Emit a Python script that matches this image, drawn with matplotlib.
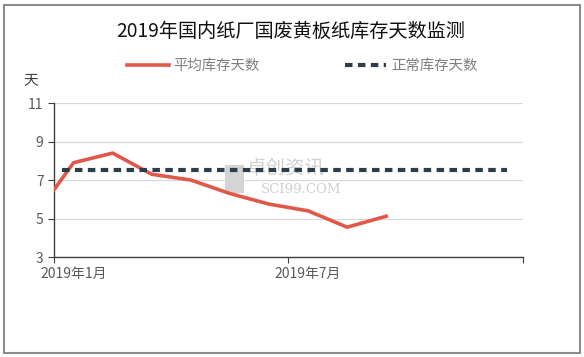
import matplotlib
matplotlib.use("Agg")
import matplotlib.pyplot as plt
from matplotlib.patches import Rectangle

plt.rcParams['font.family'] = ['Noto Sans CJK SC', 'DejaVu Sans']

# data (x in months from 2019-01)
avg_x = [0, 0.5, 1.5, 2.5, 3.5, 4.5, 5.5, 6.5, 7.5, 8.5]
avg_days = [6.5, 7.9, 8.4, 7.3, 7.0, 6.3, 5.75, 5.4, 4.55, 5.12]
normal_x = [0.2, 11.6]
normal_days = [7.5, 7.5]
xtick_pos = [0, 6, 12]
xlabel_pos = [0.5, 6.5]
xtick_labels = ['2019年1月', '2019年7月']
ytick_pos = [3, 5, 7, 9, 11]

fig = plt.figure(figsize=(5.84, 3.57), dpi=100)
fig.patches.append(Rectangle((0.006, 0.012), 0.988, 0.975, transform=fig.transFigure,
                             fill=False, edgecolor='#8c8c8c', linewidth=1.5))

ax = fig.add_axes([0.0925, 0.28, 0.803, 0.4314])

ax.plot(avg_x, avg_days, color='#e0584a', lw=2.6, zorder=3, label='平均库存天数')
ax.plot(normal_x, normal_days, color='#2c3e4a', lw=3.0, ls=(0, (1.8, 1.3)), zorder=3,
        label='正常库存天数')

ax.set_xlim(0, 12)
ax.set_ylim(3, 11)
ax.set_xticks(xtick_pos)
ax.set_xticklabels([])
ax.set_xticks(xlabel_pos, minor=True)
ax.set_xticklabels(xtick_labels, minor=True)
ax.tick_params(axis='x', which='minor', length=0, pad=7)
ax.set_yticks(ytick_pos)
ax.yaxis.grid(True, color='#d9d9d9', lw=0.9)
ax.set_axisbelow(True)
for s in ['top', 'right']:
    ax.spines[s].set_visible(False)
for s in ['left', 'bottom']:
    ax.spines[s].set_color('#404040')
    ax.spines[s].set_linewidth(1.0)
ax.tick_params(which='both', colors='#404040', labelcolor='#595959', labelsize=10)
ax.tick_params(which='major', length=4)

# watermark
ax.add_patch(Rectangle((4.37, 6.35), 0.5, 1.45, facecolor='#d4d4d4', edgecolor='none', zorder=1))
ax.text(4.95, 7.6, '卓创资讯', fontsize=14, color='#d0d0d0', va='center', zorder=1)
ax.text(5.3, 6.5, 'SCI99.COM', fontsize=9.5, color='#d0d0d0', va='center', zorder=1,
        family='DejaVu Serif')

fig.text(0.497, 0.913, '2019年国内纸厂国废黄板纸库存天数监测', ha='center', va='center',
         fontsize=13.8, color='#111111', fontweight='medium')
fig.text(0.053, 0.775, '天', ha='center', va='center', fontsize=10.5, color='#404040')

leg = ax.legend(loc='center', bbox_to_anchor=(0.517, 0.816), bbox_transform=fig.transFigure,
                ncol=2, frameon=False, fontsize=10.4, handlelength=2.9, columnspacing=5.9,
                handletextpad=0.3)
for t in leg.get_texts():
    t.set_color('#7f7f7f')

fig.savefig('out.png', dpi=100)
